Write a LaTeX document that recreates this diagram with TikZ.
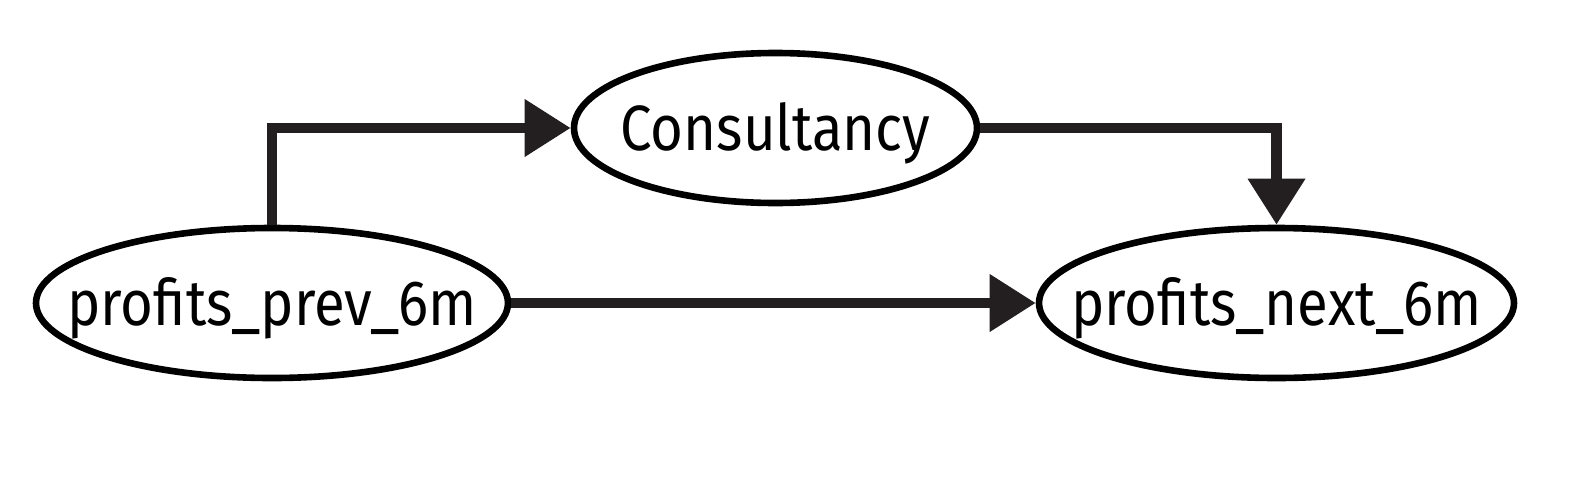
\documentclass[tikz,border=0pt]{standalone}
\usepackage{fontspec}
\setmainfont{Fira Sans}[FakeStretch=0.88]
\usetikzlibrary{shapes.geometric,arrows.meta}
\definecolor{arr}{RGB}{35,31,32}
\newcommand{\vname}[1]{\makebox[0pt]{#1}}

\begin{document}
\begin{tikzpicture}[x=0.5pt,y=-0.5pt,font=\fontsize{32}{38}\selectfont]
\tikzset{V/.style={ellipse,draw,line width=3.3pt,inner sep=0,text height=22pt,text depth=0pt,minimum height=75pt},
E/.style={draw=arr,line width=5.2pt,-{Triangle[length=23pt,width=27.5pt]}}
}

\useasboundingbox (0,0) rectangle (1572,482);

% The variables
\node(1)[V,minimum width=236pt] at (272,303) {\vname{profits\_prev\_6m}};
\node(2)[V,minimum width=201.5pt] at (775.5,128) {\vname{Consultancy}};
\node(3)[V,minimum width=237.5pt] at (1276.5,303) {\vname{profits\_next\_6m}};

% The arrows
\draw[E] (1.north) |- (2.west);
\draw[E] (2.east) -| (3.north);
\draw[E] (1.east) -- (3.west);

\end{tikzpicture}
\end{document}
